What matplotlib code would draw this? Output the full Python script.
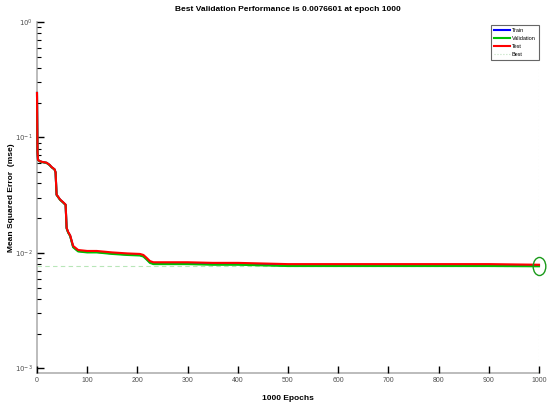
import numpy as np
import matplotlib
matplotlib.use("Agg")
import matplotlib.pyplot as plt
from matplotlib.path import Path
from matplotlib.lines import Line2D

plt.rcParams['font.family'] = ['Liberation Sans', 'DejaVu Sans']

epochs = [0, 1, 2, 5, 10, 19, 25, 29, 35, 37, 39, 46, 52, 57, 59, 62, 66, 72, 82,
          100, 119, 150, 180, 205, 212, 218, 225, 232, 260, 300, 350, 400, 450,
          500, 600, 700, 800, 900, 1000]
test_mse = [0.243, 0.075, 0.064, 0.0625, 0.0615, 0.0605, 0.058, 0.0555, 0.053, 0.050,
            0.032, 0.029, 0.0275, 0.0262, 0.0165, 0.0152, 0.0142, 0.0115, 0.0106,
            0.0104, 0.0104, 0.0101, 0.0099, 0.0098, 0.0096, 0.0091, 0.0085, 0.0083,
            0.0083, 0.0083, 0.0082, 0.0082, 0.0081, 0.0080, 0.0080, 0.0080, 0.0080,
            0.0080, 0.0079]
val_mse = [0.243, 0.075, 0.064, 0.0623, 0.0612, 0.0602, 0.0577, 0.0552, 0.0527, 0.0497,
           0.0318, 0.0288, 0.0273, 0.0260, 0.0163, 0.0150, 0.0140, 0.0112, 0.0103,
           0.0101, 0.0101, 0.0098, 0.0096, 0.0095, 0.0093, 0.0088, 0.0082, 0.0080,
           0.0080, 0.0080, 0.0079, 0.0079, 0.0078, 0.0077, 0.0077, 0.0077, 0.0077,
           0.0077, 0.0076601]
train_mse = [0.243, 0.075, 0.064, 0.0624, 0.0613, 0.0603, 0.0578, 0.0553, 0.0528, 0.0498,
             0.0319, 0.0289, 0.0274, 0.0261, 0.0164, 0.0151, 0.0141, 0.0113, 0.0104,
             0.0102, 0.0102, 0.0099, 0.0097, 0.0096, 0.0094, 0.0089, 0.0083, 0.0081,
             0.0081, 0.0081, 0.0080, 0.0080, 0.0079, 0.0078, 0.0078, 0.0078, 0.0078,
             0.0078, 0.0078]
best_epoch = 1000
best_perf = 0.0076601

fig = plt.figure(figsize=(5.48, 4.03), dpi=100)
ax = fig.add_axes([37/548, 30/403, 502/548, 351/403])

for s in ['top', 'right']:
    ax.spines[s].set_visible(False)
for s in ['left', 'bottom']:
    ax.spines[s].set_color('#b0b0b0')
    ax.spines[s].set_linewidth(1.2)
    ax.spines[s].set_zorder(1)

ax.plot(epochs, train_mse, color='#0000ff', lw=1.5, label='Train', clip_on=False, zorder=3)
ax.plot(epochs, val_mse, color='#00c000', lw=1.5, label='Validation', clip_on=False, zorder=3)
ax.plot(epochs, test_mse, color='#ff0000', lw=1.5, label='Test', clip_on=False, zorder=3)

ax.axhline(best_perf, color='#b8e6b8', lw=0.8, ls=(0, (4, 3)), zorder=2)
ax.axvline(best_epoch, color='#c8e8c8', lw=0.8, ls=(0, (1, 2)), zorder=2)

circ = Path.unit_circle()
ell = Path(circ.vertices * np.array([0.7, 1.0]), circ.codes)
ax.plot([best_epoch], [best_perf], marker=ell, ms=13, mfc='none', mec='#1a9a1a',
        mew=1.0, clip_on=False, zorder=4)

ax.set_yscale('log')
ax.set_xlim(0, 1000)
ax.set_ylim(10 ** -3.04, 1.0)
ax.set_xticks(range(0, 1001, 100))
ax.set_yticks([1e-3, 1e-2, 1e-1, 1e0])
ax.set_yticklabels([r'$10^{-3}$', r'$10^{-2}$', r'$10^{-1}$', r'$10^{0}$'])

ax.tick_params(axis='both', which='major', direction='in', length=5, width=1,
               color='black', labelsize=5, labelcolor='#505050', pad=3)
ax.tick_params(axis='y', which='minor', direction='in', length=3, width=0.8, color='black')

ax.set_title('Best Validation Performance is 0.0076601 at epoch 1000',
             fontsize=6, fontweight='bold', pad=8)
ax.set_xlabel('1000 Epochs', fontsize=6, fontweight='bold', labelpad=8)
ax.set_ylabel('Mean Squared Error  (mse)', fontsize=6, fontweight='bold')
ax.yaxis.set_label_coords(-0.044, 0.5)

handles = [Line2D([], [], color='#0000ff', lw=1.5),
           Line2D([], [], color='#00c000', lw=1.5),
           Line2D([], [], color='#ff0000', lw=1.5),
           Line2D([], [], color='#c0e0c0', lw=0.8, ls=':')]
leg = fig.legend(handles, ['Train', 'Validation', 'Test', 'Best'],
                 loc='upper left', bbox_to_anchor=(488/548, 1 - 22/403),
                 fontsize=4, frameon=True, fancybox=False, handlelength=3,
                 handletextpad=0.3, borderpad=0.5, labelspacing=0.55)
leg.get_frame().set_edgecolor('#404040')
leg.get_frame().set_linewidth(0.8)

fig.savefig('out.png', dpi=100)
